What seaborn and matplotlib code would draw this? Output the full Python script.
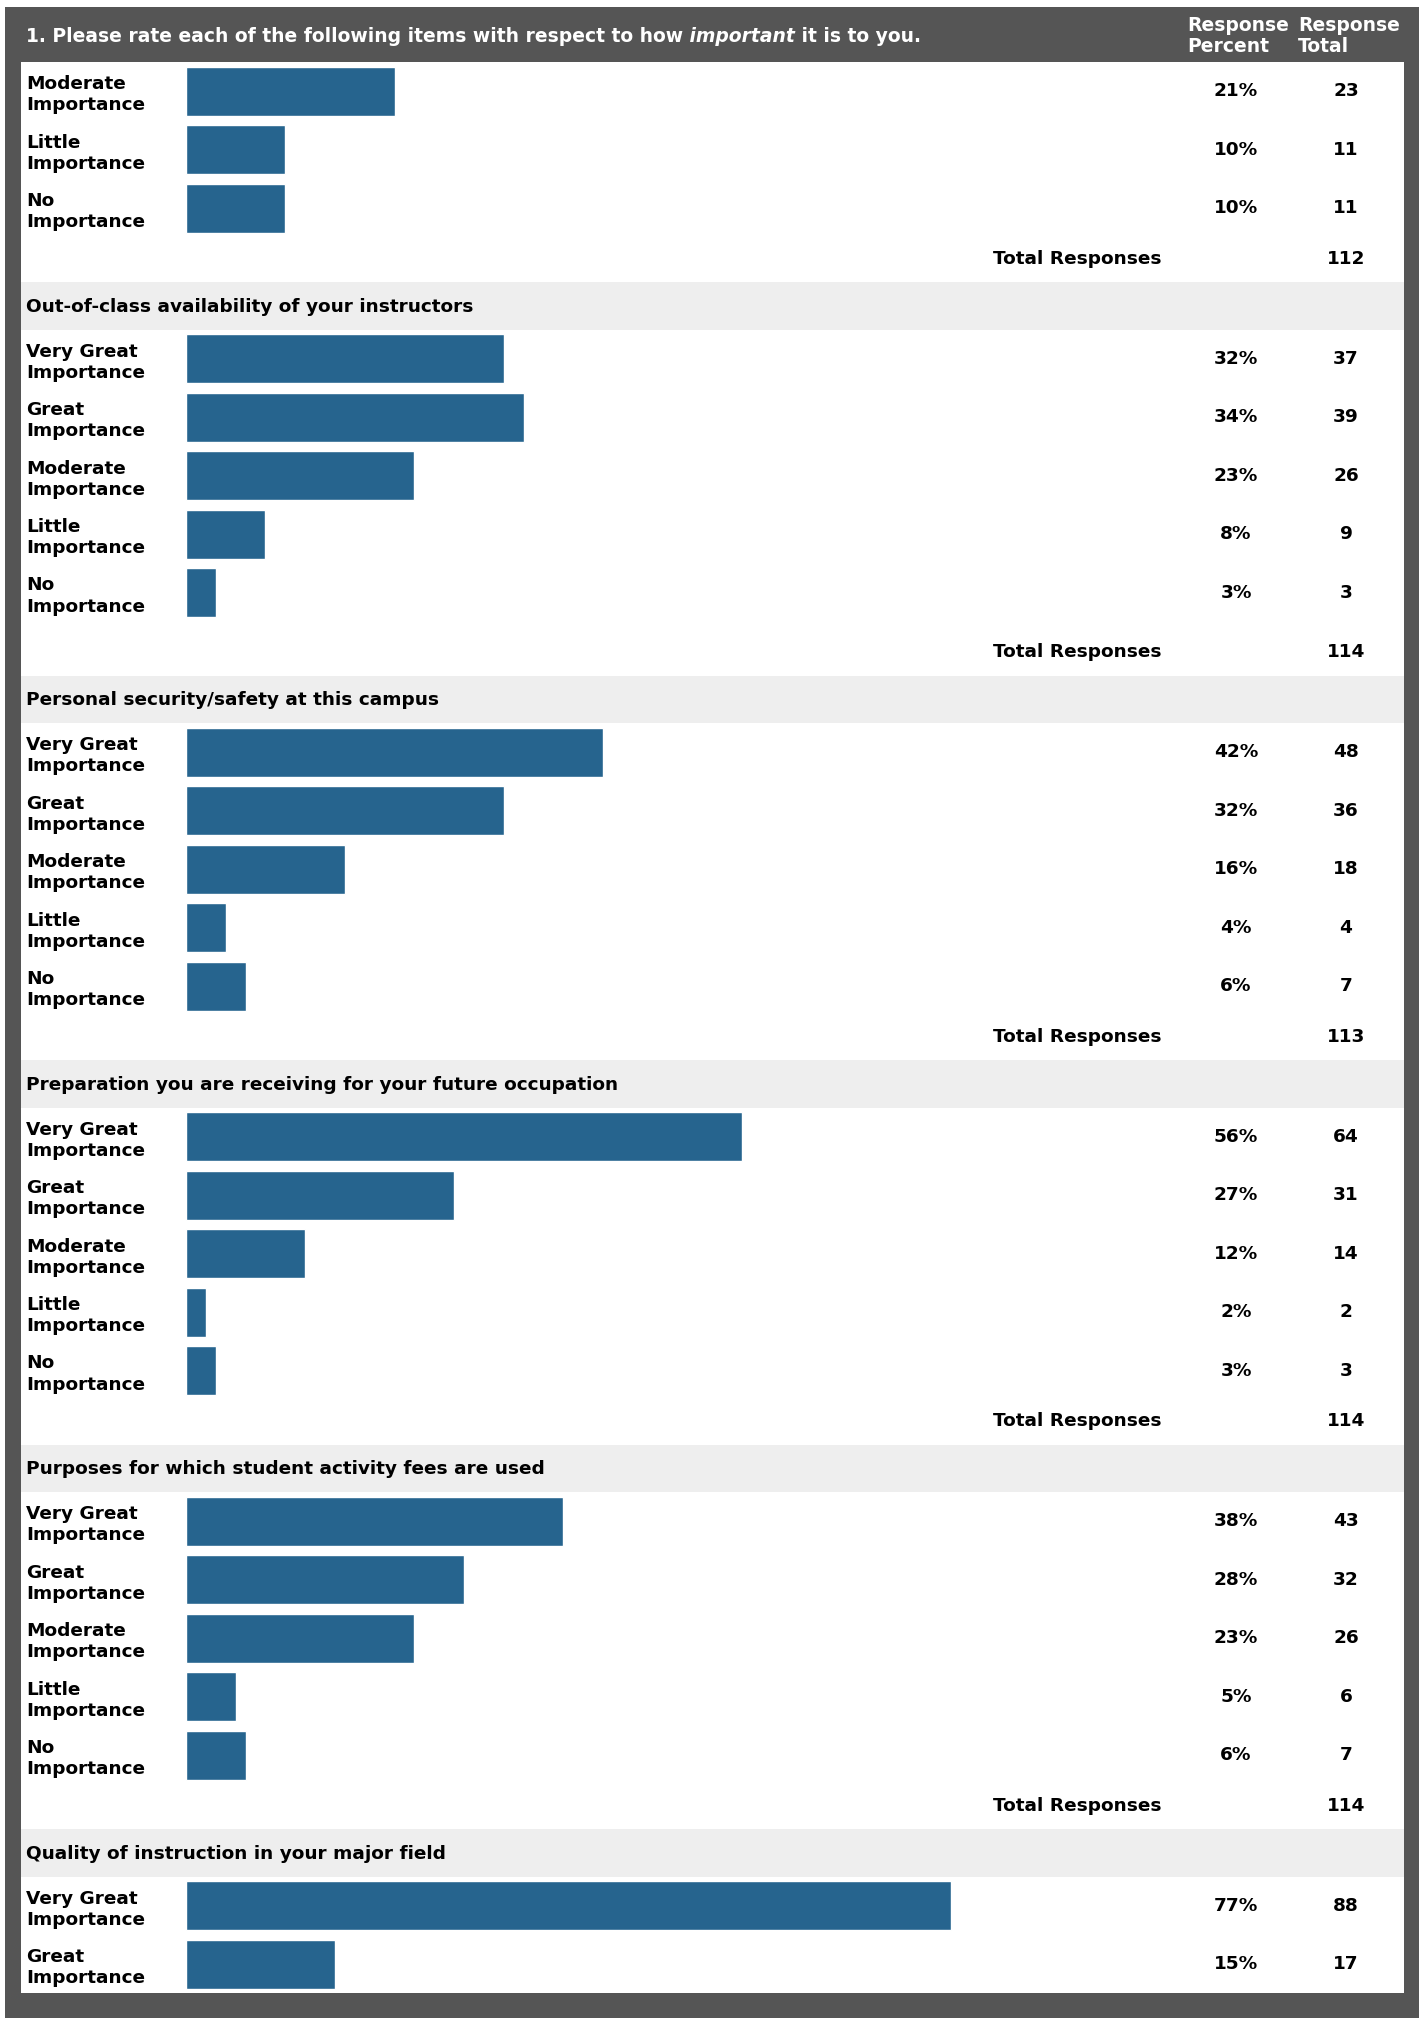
import matplotlib
matplotlib.use("Agg")
import matplotlib.pyplot as plt
import matplotlib.transforms as mtransforms
from matplotlib.patches import Rectangle
import pandas as pd
import seaborn as sns

# survey data, one list per section (first section is cut off at the top of the page)
titles = [
    None,
    "Out-of-class availability of your instructors",
    "Personal security/safety at this campus",
    "Preparation you are receiving for your future occupation",
    "Purposes for which student activity fees are used",
    "Quality of instruction in your major field",
]
levels = ["Very Great Importance", "Great Importance", "Moderate Importance",
          "Little Importance", "No Importance"]
section_levels = [levels[2:], levels, levels, levels, levels, levels[:2]]
percents = [
    [21, 10, 10],
    [32, 34, 23, 8, 3],
    [42, 32, 16, 4, 6],
    [56, 27, 12, 2, 3],
    [38, 28, 23, 5, 6],
    [77, 15],
]
counts = [
    [23, 11, 11],
    [37, 39, 26, 9, 3],
    [48, 36, 18, 4, 7],
    [64, 31, 14, 2, 3],
    [43, 32, 26, 6, 7],
    [88, 17],
]
totals = [112, 114, 113, 114, 114, None]

# page layout (pixels)
W, H = 1419, 2018
DARK = "#555555"
BAND_COLOR = "#eeeeee"
BAR_COLOR = "#26648e"
PANEL_L, PANEL_R, PANEL_T, PANEL_B = 21, 1404, 62, 1993
BAR_X0, BAR_W = 186, 993
ROW, BAND, TOTAL_ROW = 58.4, 47.5, 45
EXTRA = [0, 9, 0, 0, 0, 0]
PCT_X, CNT_X = 1236, 1346
FS = 13.3
HFS = 13.5

sns.set_style("white")
plt.rcParams['font.family'] = ['DejaVu Sans']
plt.rcParams['font.weight'] = 'bold'
plt.rcParams['text.color'] = 'black'
plt.rcParams['ytick.color'] = 'black'

fig = plt.figure(figsize=(W / 100, H / 100), dpi=100)
bg = fig.add_axes([0, 0, 1, 1])
bg.set_xlim(0, W)
bg.set_ylim(H, 0)
bg.axis('off')

bg.add_patch(Rectangle((5, 7), W - 5, H - 7, color=DARK, lw=0))
bg.add_patch(Rectangle((PANEL_L, PANEL_T), PANEL_R - PANEL_L, PANEL_B - PANEL_T, color="white", lw=0))

# header
t1 = bg.text(26, 36, "1. Please rate each of the following items with respect to how",
             color="white", fontsize=HFS, fontweight='bold', va='center', ha='left')
t2 = bg.annotate(" important", xy=(1, 0), xycoords=t1, color="white", fontsize=HFS,
                 fontweight='bold', fontstyle='italic', va='bottom', ha='left')
bg.annotate(" it is to you.", xy=(1, 0), xycoords=t2, color="white", fontsize=HFS,
            fontweight='bold', va='bottom', ha='left')
bg.text(1187, 36, "Response\nPercent", color="white", fontsize=HFS, fontweight='bold',
        va='center', ha='left', linespacing=1.18)
bg.text(1298, 36, "Response\nTotal", color="white", fontsize=HFS, fontweight='bold',
        va='center', ha='left', linespacing=1.18)

y = PANEL_T
for i, title in enumerate(titles):
    if title is not None:
        bg.add_patch(Rectangle((PANEL_L, y), PANEL_R - PANEL_L, BAND, color=BAND_COLOR, lw=0))
        bg.text(26, y + BAND / 2 + 1, title, fontsize=FS, fontweight='bold',
                color="black", va='center', ha='left')
        y += BAND

    df = pd.DataFrame({"level": section_levels[i], "pct": percents[i], "n": counts[i]})
    n = len(df)
    hgt = n * ROW
    ax = fig.add_axes([BAR_X0 / W, 1 - (y + hgt) / H, BAR_W / W, hgt / H])
    sns.barplot(data=df, x="pct", y="level", orient="h", color=BAR_COLOR,
                saturation=1, width=49 / ROW, ax=ax)
    ax.set_xlim(0, 100)
    ax.set_ylim(n - 0.5, -0.5)
    ax.set_facecolor("none")
    ax.set_xticks([])
    ax.set_xlabel("")
    ax.set_ylabel("")
    for s in ax.spines.values():
        s.set_visible(False)
    ax.set_yticks(range(n))
    ax.set_yticklabels([lv.replace(" Importance", "\nImportance") for lv in df["level"]],
                       ha='left', fontsize=FS, fontweight='bold', linespacing=1.22,
                       color='black')
    ax.tick_params(axis='y', length=0, pad=(BAR_X0 - 26) * 0.72)

    tr = mtransforms.blended_transform_factory(bg.transData, ax.transData)
    for j, (p, c) in enumerate(zip(df["pct"], df["n"])):
        ax.text(PCT_X, j, f"{p}%", transform=tr, ha='center', va='center',
                fontsize=FS, fontweight='bold', color='black')
        ax.text(CNT_X, j, f"{c}", transform=tr, ha='center', va='center',
                fontsize=FS, fontweight='bold', color='black')
    y += hgt + EXTRA[i]

    if totals[i] is not None:
        yc = y + TOTAL_ROW / 2 - 1
        bg.text(993, yc, "Total Responses", ha='left', va='center', fontsize=FS,
                fontweight='bold', color='black')
        bg.text(CNT_X, yc, f"{totals[i]}", ha='center', va='center', fontsize=FS,
                fontweight='bold', color='black')
        y += TOTAL_ROW

fig.savefig("out.png", dpi=100)
